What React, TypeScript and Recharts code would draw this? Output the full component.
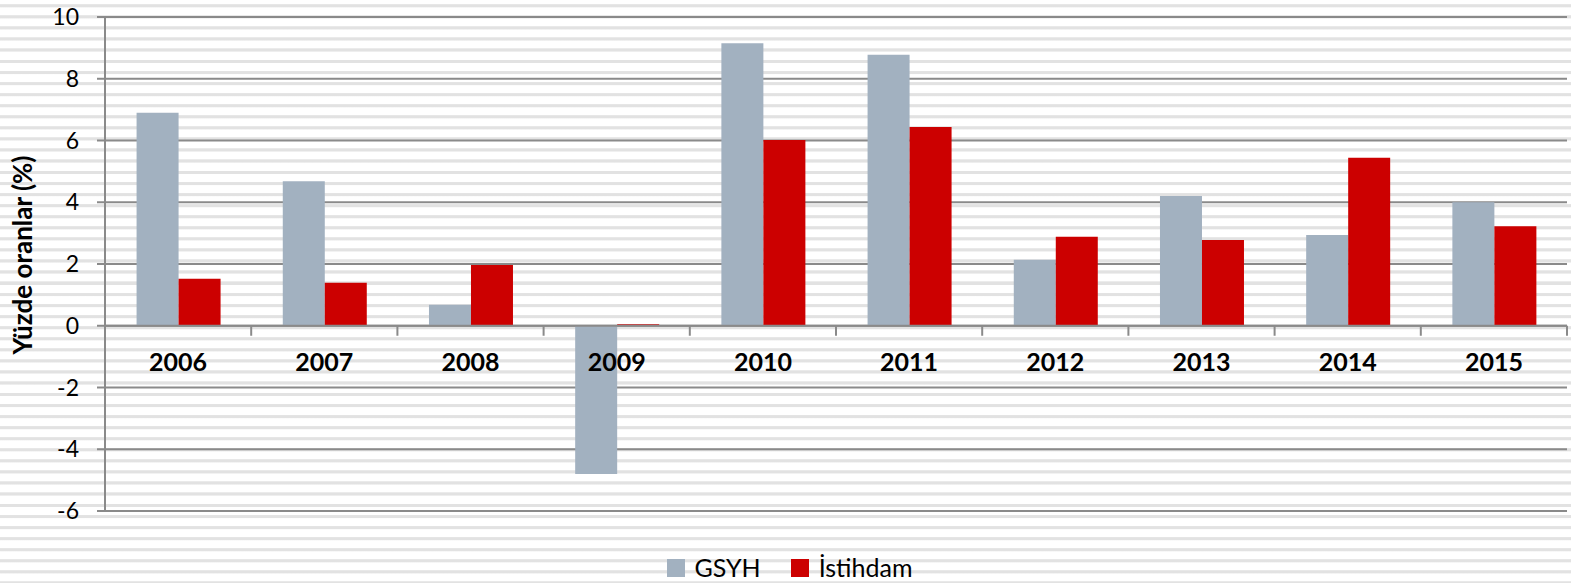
import React from 'react';
import { BarChart, Bar, XAxis, YAxis, CartesianGrid, ReferenceLine, Legend } from 'recharts';

const years = ['2006', '2007', '2008', '2009', '2010', '2011', '2012', '2013', '2014', '2015'];
const gsyh = [6.9, 4.68, 0.68, -4.8, 9.15, 8.78, 2.14, 4.2, 2.94, 4.0];
const istihdam = [1.52, 1.39, 1.97, 0.05, 6.02, 6.44, 2.88, 2.78, 5.44, 3.22];
const yTicks = [-6, -4, -2, 0, 2, 4, 6, 8, 10];
const seriesNames = ['GSYH', 'İstihdam'];
const seriesColors = ['#A2B1C0', '#CC0000'];

const data = years.map((y, i) => ({ year: y, gsyh: gsyh[i], istihdam: istihdam[i] }));

const GRID = '#8A8A8A';
const FONT = 'Lato, "DejaVu Sans", sans-serif';

const ZeroAxis = (props: any) => {
  const vb = props.viewBox || {};
  const x = vb.x ?? 0;
  const y = vb.y ?? 0;
  const w = vb.width ?? 0;
  const n = years.length;
  return (
    <g>
      {years.map((_, i) => (
        <line key={'t' + i} x1={x + (w * (i + 1)) / n} x2={x + (w * (i + 1)) / n} y1={y} y2={y + 10} stroke={GRID} strokeWidth={2} />
      ))}
      {years.map((yr, i) => (
        <text key={'l' + i} x={x + (w * (i + 0.5)) / n} y={y + 45} textAnchor="middle" fontFamily={FONT} fontWeight={700} fontSize={25} fill="#000">
          {yr}
        </text>
      ))}
    </g>
  );
};

const LegendContent = () => (
  <div style={{ display: 'flex', justifyContent: 'center', alignItems: 'center', fontFamily: FONT, fontSize: 25, color: '#000', lineHeight: '25px' }}>
    {seriesNames.map((n, i) => (
      <div key={n} style={{ display: 'flex', alignItems: 'center', marginRight: i === 0 ? 30 : 0 }}>
        <span style={{ display: 'inline-block', width: 18, height: 18, background: seriesColors[i], marginRight: 10 }} />
        <span>{n}</span>
      </div>
    ))}
  </div>
);

const YLabel = () => (
  <text x={32} y={255} transform="rotate(-90 32 255)" textAnchor="middle" fontFamily={FONT} fontWeight={700} fontSize={26} fill="#000">
    Yüzde oranlar (%)
  </text>
);

export default function App() {
  const stripes =
    'repeating-linear-gradient(to bottom, #ffffff 0px, #ffffff 4px, #ececec 4px, #e2e2e2 5px, #e2e2e2 7px, #ececec 7px, #ffffff 8px, #ffffff 11.1px)';
  return (
    <div style={{ position: 'absolute', left: 0, top: 0, width: 1571, height: 583, background: stripes }}>
      <BarChart
        width={1571}
        height={583}
        data={data}
        margin={{ top: 17, right: 4, bottom: 72, left: 0 }}
        barCategoryGap="21.6%"
        barGap={0}
      >
        <CartesianGrid vertical={false} stroke={GRID} strokeWidth={2} />
        <XAxis dataKey="year" hide />
        <YAxis
          width={105}
          domain={[-6, 10]}
          ticks={yTicks}
          interval={0}
          tickSize={8}
          tickMargin={18}
          axisLine={{ stroke: GRID, strokeWidth: 2 }}
          tickLine={{ stroke: GRID, strokeWidth: 2 }}
          tick={{ fill: '#000', fontSize: 23, fontFamily: FONT }}
          label={<YLabel />}
        />
        <Bar dataKey="gsyh" name={seriesNames[0]} fill={seriesColors[0]} isAnimationActive={false} />
        <Bar dataKey="istihdam" name={seriesNames[1]} fill={seriesColors[1]} isAnimationActive={false} />
        <ReferenceLine y={0} stroke={GRID} strokeWidth={2} label={(p: any) => <ZeroAxis {...p} />} />
        <Legend
          layout="horizontal"
          verticalAlign="middle"
          align="center"
          wrapperStyle={{ top: 555, left: 4, width: 1571, height: 26 }}
          content={<LegendContent />}
        />
      </BarChart>
    </div>
  );
}
